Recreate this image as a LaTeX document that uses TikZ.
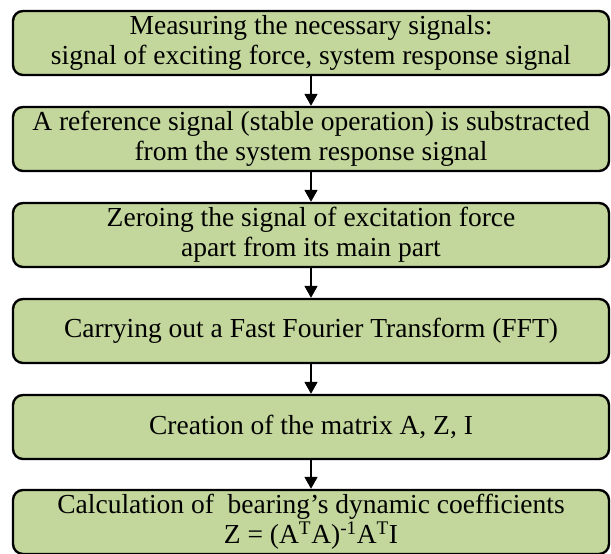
\documentclass[tikz,border=0pt]{standalone}
\usepackage{fontspec}
\setmainfont{Liberation Serif}
\usetikzlibrary{arrows.meta}
\definecolor{StepFill}{RGB}{195, 214, 155}

\begin{document}
\begin{tikzpicture}[x=1pt,y=1pt,
    stepbox/.style={draw,line width=2.4pt,fill=StepFill,rounded corners=10pt,
      minimum width=596pt,minimum height=64pt,inner sep=0pt,align=center,
      font=\fontsize{27.5}{30}\selectfont},
    flow/.style={line width=1.8pt,-{Triangle[length=12pt,width=13pt]}}]
        \useasboundingbox (0,0) rectangle (611,554);
        \node[stepbox] (measure) at (311,511) {Measuring the necessary signals:\\signal of exciting force, system response signal};
        \node[stepbox] (subtract) at (311,415) {A reference signal (stable operation) is substracted\\from the system response signal};
        \node[stepbox] (zeroing) at (311,319) {Zeroing the signal of excitation force\\apart from its main part};
        \node[stepbox] (fft) at (311,223) {Carrying out a Fast Fourier Transform (FFT)};
        \node[stepbox] (matrix) at (311,127) {Creation of the matrix A, Z, I};
        \node[stepbox] (coeff) at (311,32) {Calculation of \ bearing’s dynamic coefficients\\Z = (A\textsuperscript{T}A)\textsuperscript{-1}A\textsuperscript{T}I};
        \foreach \a/\b in {measure/subtract,subtract/zeroing,zeroing/fft,fft/matrix,matrix/coeff} {
          \draw[flow] (\a.south) -- (\b.north);
        }
      \end{tikzpicture}
\end{document}
